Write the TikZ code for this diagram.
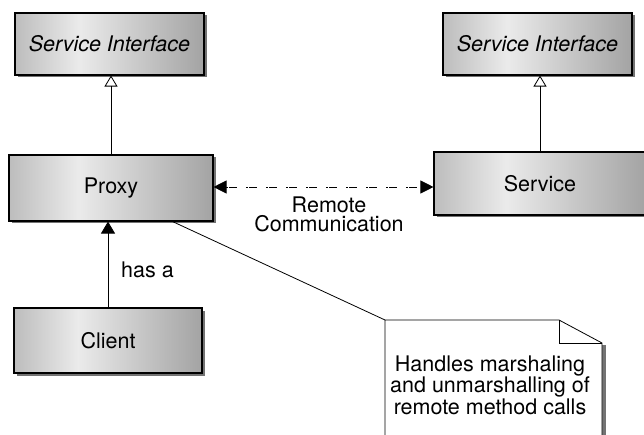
\documentclass[tikz,border=0pt]{standalone}
\usepackage{fontspec}
\setmainfont{TeX Gyre Heros}
\usetikzlibrary{arrows.meta,shadows,calc}
\pgfdeclarehorizontalshading{boxshade}{100bp}{color(0bp)=(black!26); color(25bp)=(black!26); color(42bp)=(black!8); color(75bp)=(black!36); color(100bp)=(black!36)}
\tikzset{
  classbox/.style={draw=black, line width=1.1pt, shading=boxshade, inner sep=0pt,
    drop shadow={shadow xshift=2.5pt, shadow yshift=-2.5pt, fill=black!55, opacity=1},
    font=\fontsize{21.5}{24}\selectfont},
  lbl/.style={font=\fontsize{21.5}{19.5}\selectfont, inner sep=0pt, align=center},
  inherit/.style={line width=0.8pt, -{Triangle[open, length=11pt, width=13pt]}},
  assoc/.style={line width=0.8pt, -{Triangle[length=12pt, width=14pt]}},
  remote/.style={line width=0.8pt, dash pattern=on 1.5pt off 1.5pt on 8pt off 9pt,
    {Triangle[length=13pt, width=13pt]}-{Triangle[length=13pt, width=13pt]}},
  notebox/.style={draw=black, line width=0.8pt, fill=white},
}
\begin{document}
\begin{tikzpicture}[x=1pt, y=-1pt]
\useasboundingbox (0,0) rectangle (644,435);
\clip (0,0) rectangle (644,435);

\node[classbox, minimum width=189pt, minimum height=62pt] (sil) at (109.5,44) {\itshape Service Interface};
\node[classbox, minimum width=189pt, minimum height=62pt] (sir) at (537.5,44) {\itshape Service Interface};
\node[classbox, minimum width=204pt, minimum height=66pt] (proxy) at (111,188) {Proxy};
\node[classbox, minimum width=212pt, minimum height=63pt] (service) at (540,183.5) {Service};
\node[classbox, minimum width=188pt, minimum height=65pt] (client) at (108,340.5) {Client};

\draw[inherit] (proxy.north) -- (proxy.north |- sil.south);
\draw[inherit] (service.north) -- (service.north |- sir.south);
\draw[assoc] (client.north) -- (client.north |- proxy.south);
\node[lbl, anchor=west] (hasa) at (121,270) {has a};

\coordinate (pe) at ($(proxy.east)+(0,-1)$);
\draw[remote] (pe) -- (pe -| service.west);
\node[lbl] (rc) at (329,214.5) {Remote\\Communication};

% note
\coordinate (ntl) at (385,320);
\coordinate (nfold) at (559,320);
\coordinate (nfr) at (602,343);
\coordinate (nbr) at (602,445);
\coordinate (nbl) at (385,445);
\fill[black!55] (602,345) rectangle (606,445);
\draw[notebox] (nbl) -- (ntl) -- (nfold) -- (nfr) -- (nbr);
\draw[line width=0.8pt] (nfold) |- (nfr);
\node[lbl, font=\fontsize{21.5}{20}\selectfont] (note) at (490,385) {Handles marshaling\\and unmarshalling of\\remote method calls};

\coordinate (ps) at ($(proxy.south west)!0.8!(proxy.south east)$);
\draw[line width=0.8pt] (ps) -- (ntl);
\end{tikzpicture}
\end{document}
